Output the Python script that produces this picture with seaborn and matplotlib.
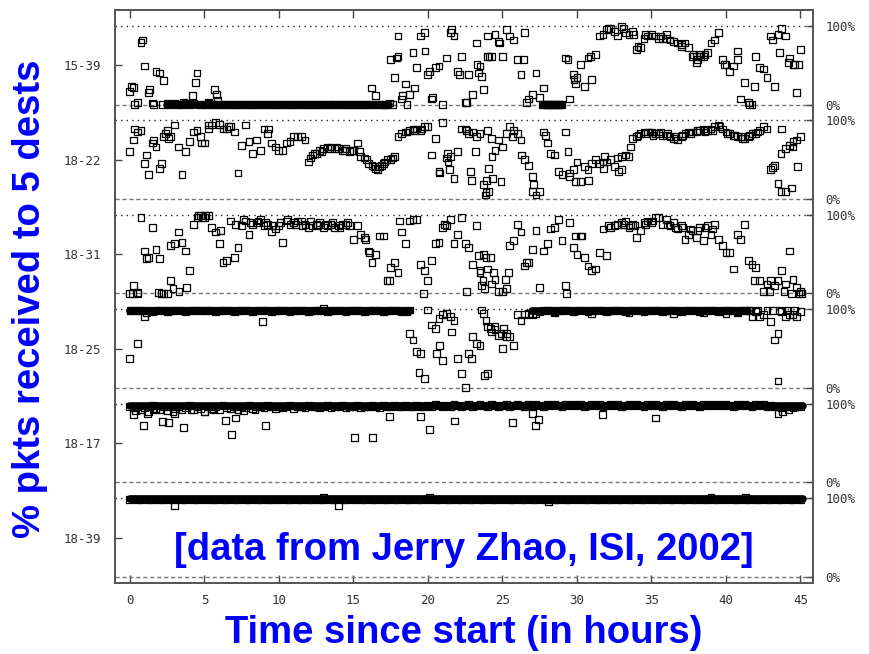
import matplotlib
matplotlib.use("Agg")
import matplotlib.pyplot as plt
import pandas as pd
import seaborn as sns

# sample times (hours since start)
hours = [
    0, 0.25, 0.5, 0.75, 1, 1.25, 1.5, 1.75, 2, 2.25, 2.5, 2.75, 3, 3.25, 3.5, 3.75, 4, 4.25, 4.5, 4.75,
    5, 5.25, 5.5, 5.75, 6, 6.25, 6.5, 6.75, 7, 7.25, 7.5, 7.75, 8, 8.25, 8.5, 8.75, 9, 9.25, 9.5, 9.75,
    10, 10.25, 10.5, 10.75, 11, 11.25, 11.5, 11.75, 12, 12.25, 12.5, 12.75, 13, 13.25, 13.5, 13.75, 14, 14.25, 14.5, 14.75,
    15, 15.25, 15.5, 15.75, 16, 16.25, 16.5, 16.75, 17, 17.25, 17.5, 17.75, 18, 18.25, 18.5, 18.75, 19, 19.25, 19.5, 19.75,
    20, 20.25, 20.5, 20.75, 21, 21.25, 21.5, 21.75, 22, 22.25, 22.5, 22.75, 23, 23.25, 23.5, 23.75, 24, 24.25, 24.5, 24.75,
    25, 25.25, 25.5, 25.75, 26, 26.25, 26.5, 26.75, 27, 27.25, 27.5, 27.75, 28, 28.25, 28.5, 28.75, 29, 29.25, 29.5, 29.75,
    30, 30.25, 30.5, 30.75, 31, 31.25, 31.5, 31.75, 32, 32.25, 32.5, 32.75, 33, 33.25, 33.5, 33.75, 34, 34.25, 34.5, 34.75,
    35, 35.25, 35.5, 35.75, 36, 36.25, 36.5, 36.75, 37, 37.25, 37.5, 37.75, 38, 38.25, 38.5, 38.75, 39, 39.25, 39.5, 39.75,
    40, 40.25, 40.5, 40.75, 41, 41.25, 41.5, 41.75, 42, 42.25, 42.5, 42.75, 43, 43.25, 43.5, 43.75, 44, 44.25, 44.5, 44.75,
    45,
]

hosts = ["15-39", "18-22", "18-31", "18-25", "18-17", "18-39"]

# % packets received, one value per sample time
pct_15_39 = [
    17, 22, 3, 79, 49, 15, 2, 42, 40, 30, 2, 0, 1, 0, 0, 2, 0, 1, 40, 0,
    0, 3, 0, 0, 0, 0, 0, 0, 0, 0, 0, 0, 0, 0, 0, 0, 0, 0, 0, 0,
    0, 0, 0, 0, 0, 0, 0, 0, 0, 0, 0, 0, 0, 0, 0, 0, 0, 0, 0, 0,
    0, 0, 0, 0, 0, 0, 0, 0, 0, 0, 57, 34, 87, 7, 26, 13, 66, 47, 87, 91,
    38, 7, 47, 49, 0, 59, 91, 87, 42, 61, 3, 38, 13, 78, 49, 19, 87, 61, 89, 80,
    61, 95, 87, 82, 57, 38, 91, 7, 13, 40, 9, 21, 0, 0, 0, 0, 0, 59, 7, 38,
    34, 51, 23, 59, 32, 63, 87, 89, 95, 97, 93, 87, 99, 91, 89, 93, 70, 72, 84, 87,
    89, 87, 84, 84, 89, 82, 80, 78, 74, 78, 72, 61, 53, 63, 61, 66, 78, 82, 91, 57,
    51, 42, 49, 68, 7, 28, 3, 0, 61, 47, 45, 34, 87, 23, 89, 97, 87, 59, 51, 15,
    70,
]
pct_18_22 = [
    60, 75, 85, 87, 45, 31, 71, 66, 39, 79, 87, 79, 94, 66, 31, 60, 73, 85, 87, 79,
    71, 89, 94, 97, 95, 89, 89, 92, 85, 33, 68, 94, 73, 58, 75, 62, 89, 83, 71, 66,
    62, 62, 71, 73, 79, 79, 79, 75, 47, 56, 58, 62, 64, 66, 66, 64, 64, 62, 64, 60,
    62, 71, 54, 52, 45, 43, 39, 41, 45, 50, 50, 54, 79, 83, 85, 87, 89, 89, 87, 92,
    92, 56, 77, 35, 97, 52, 54, 26, 60, 89, 89, 83, 85, 79, 83, 18, 87, 77, 62, 75,
    66, 83, 92, 87, 83, 75, 50, 43, 29, 5, 10, 85, 71, 58, 56, 35, 31, 85, 29, 37,
    47, 22, 41, 37, 45, 50, 45, 47, 47, 50, 41, 52, 54, 56, 54, 77, 79, 83, 85, 85,
    85, 83, 83, 81, 81, 79, 77, 75, 79, 83, 85, 85, 85, 87, 89, 87, 89, 92, 94, 89,
    85, 83, 81, 79, 79, 77, 79, 83, 83, 87, 92, 89, 37, 43, 20, 89, 64, 68, 73, 75,
    79,
]
pct_18_31 = [
    0, 10, 1, 97, 54, 46, 84, 56, 44, 0, 0, 61, 64, 78, 65, 54, 29, 88, 97, 99,
    97, 99, 84, 78, 63, 39, 42, 92, 46, 58, 86, 92, 75, 88, 90, 94, 86, 88, 78, 82,
    86, 65, 92, 88, 90, 92, 92, 88, 84, 86, 88, 90, 84, 86, 88, 84, 86, 88, 88, 86,
    69, 86, 75, 71, 54, 39, 50, 73, 73, 16, 33, 39, 27, 78, 63, 92, 94, 94, 37, 29,
    16, 42, 63, 65, 84, 86, 94, 63, 75, 97, 63, 58, 37, 86, 27, 50, 31, 12, 18, 3,
    3, 6, 61, 67, 88, 78, 35, 39, 56, 80, 8, 54, 63, 82, 84, 94, 67, 10, 90, 58,
    50, 73, 46, 35, 29, 31, 52, 82, 48, 84, 86, 88, 90, 92, 84, 88, 71, 80, 90, 92,
    90, 97, 97, 88, 94, 86, 90, 82, 86, 69, 75, 80, 71, 84, 67, 86, 75, 88, 69, 61,
    52, 52, 31, 75, 69, 88, 42, 37, 33, 16, 3, 12, 16, 10, 16, 29, 12, 54, 18, 8,
    3,
]
pct_18_25 = [
    37, 98, 56, 98, 91, 98, 97, 98, 99, 98, 97, 98, 98, 99, 98, 97, 98, 98, 99, 98,
    98, 99, 98, 97, 98, 98, 99, 98, 97, 98, 98, 99, 98, 97, 98, 98, 99, 98, 97, 98,
    98, 99, 98, 97, 98, 98, 99, 98, 97, 98, 98, 99, 98, 97, 98, 98, 99, 98, 97, 98,
    98, 99, 98, 97, 98, 98, 99, 98, 97, 98, 98, 99, 98, 97, 98, 69, 61, 46, 44, 12,
    99, 80, 76, 88, 93, 95, 91, 86, 37, 18, 1, 44, 65, 56, 54, 95, 78, 71, 78, 67,
    50, 69, 65, 54, 93, 86, 93, 95, 93, 95, 97, 98, 99, 98, 97, 98, 98, 99, 98, 97,
    98, 99, 98, 97, 98, 98, 99, 98, 97, 98, 98, 99, 98, 97, 98, 98, 99, 98, 97, 98,
    98, 99, 98, 97, 98, 98, 99, 98, 97, 98, 98, 99, 98, 97, 98, 98, 99, 98, 97, 98,
    98, 99, 98, 97, 98, 98, 98, 91, 97, 91, 93, 98, 84, 61, 69, 97, 91, 93, 93, 91,
    97,
]
pct_18_17 = [
    96, 86, 97, 93, 95, 90, 98, 94, 93, 97, 91, 96, 94, 97, 92, 95, 98, 93, 96, 94,
    90, 97, 94, 96, 93, 98, 95, 94, 97, 93, 96, 95, 98, 94, 96, 97, 95, 98, 96, 94,
    97, 95, 96, 98, 94, 97, 96, 95, 98, 96, 97, 95, 96, 98, 95, 97, 96, 98, 95, 97,
    96, 98, 95, 97, 96, 98, 97, 95, 98, 96, 97, 98, 96, 97, 98, 96, 97, 98, 97, 96,
    98, 97, 99, 98, 96, 98, 97, 99, 98, 97, 98, 99, 97, 98, 99, 98, 97, 99, 98, 97,
    98, 99, 97, 98, 99, 98, 97, 99, 98, 99, 98, 97, 99, 98, 99, 98, 97, 99, 98, 99,
    98, 99, 97, 98, 99, 98, 99, 97, 98, 99, 98, 99, 97, 98, 99, 98, 99, 98, 97, 99,
    98, 99, 98, 97, 99, 98, 99, 98, 97, 99, 98, 99, 98, 97, 99, 98, 99, 98, 99, 98,
    99, 98, 97, 99, 98, 99, 98, 97, 99, 98, 99, 97, 98, 96, 97, 95, 96, 97, 95, 97,
    97,
]
pct_18_39 = [
    98, 99, 98, 98, 99, 98, 98, 99, 98, 98, 99, 98, 98, 99, 98, 98, 99, 98, 98, 99,
    98, 99, 98, 98, 99, 98, 98, 99, 98, 98, 99, 98, 98, 99, 98, 98, 99, 98, 98, 99,
    98, 99, 98, 98, 99, 98, 98, 99, 98, 98, 99, 98, 98, 99, 98, 98, 99, 98, 98, 99,
    98, 99, 98, 98, 99, 98, 98, 99, 98, 98, 99, 98, 98, 99, 98, 98, 99, 98, 98, 99,
    98, 99, 98, 98, 99, 98, 98, 99, 98, 98, 99, 98, 98, 99, 98, 98, 99, 98, 98, 99,
    98, 99, 98, 98, 99, 98, 98, 99, 98, 98, 99, 98, 98, 99, 98, 98, 99, 98, 98, 99,
    98, 99, 98, 98, 99, 98, 98, 99, 98, 98, 99, 98, 98, 99, 98, 98, 99, 98, 98, 99,
    98, 99, 98, 98, 99, 98, 98, 99, 98, 98, 99, 98, 98, 99, 98, 98, 99, 98, 98, 99,
    98, 99, 98, 98, 99, 98, 98, 99, 98, 98, 99, 98, 98, 99, 98, 98, 99, 98, 98, 99,
    98,
]

# additional samples (several readings close together in time)
extra_t_15_39 = [0.1, 0.3, 0.85, 1.3, 1.6, 2.2, 3.6, 4.2, 4.4, 5.3, 5.7, 5.8, 5.9, 16.2, 16.5, 17.1, 17.4,
                 17.6, 17.9, 18.0, 18.3, 18.6, 19.1, 19.8, 20.1, 20.3, 21.6, 22.1, 22.6, 23.3, 23.4, 23.6,
                 24.0, 24.1, 24.8, 26.4, 26.6, 27.7, 27.9, 28.1, 28.4, 28.6, 28.9, 29.4, 29.8, 29.9, 30.9,
                 32.1, 33.1, 33.8, 34.1, 34.6, 35.6, 36.0, 37.0, 37.8, 38.0, 38.1, 38.3, 38.6, 39.9, 40.8,
                 41.6, 41.9, 43.1, 43.6, 44.2, 44.6, 44.9]
extra_p_15_39 = [23, 0, 82, 19, 0, 0, 3, 11, 28, 2, 19, 13, 5, 21, 11, 0, 2,
                 0, 59, 61, 11, 0, 21, 68, 42, 9, 95, 38, 3, 51, 40, 36,
                 61, 61, 78, 57, 3, 0, 0, 0, 0, 0, 0, 57, 32, 26, 61,
                 97, 97, 89, 74, 89, 87, 84, 76, 63, 61, 57, 61, 63, 51, 57,
                 0, 23, 82, 66, 53, 51, 51]
extra_t_18_22 = [0.3, 1.1, 1.6, 2.1, 2.4, 2.6, 4.8, 5.3, 6.6, 9.3, 12.1, 12.4, 12.9, 13.4, 13.9, 14.4, 14.9,
                 15.4, 15.9, 16.4, 16.6, 16.9, 17.1, 17.6, 18.6, 19.1, 19.6, 20.8, 21.3, 21.35, 21.45, 22.6,
                 22.85, 22.9, 23.2, 23.85, 23.9, 23.95, 24.05, 24.1, 24.3, 24.35, 24.9, 25.7, 26.3, 27.0,
                 27.1, 27.9, 29.4, 29.5, 29.9, 30.8, 31.8, 31.85, 32.8, 33.0, 33.6, 34.1, 34.6, 34.9, 35.1,
                 35.6, 36.1, 36.6, 37.1, 37.6, 38.1, 38.6, 39.1, 39.6, 40.1, 40.6, 41.1, 41.6, 42.1, 43.1,
                 43.7, 44.0, 44.4, 43.7, 44.5, 44.8]
extra_p_18_22 = [89, 56, 75, 45, 83, 77, 71, 94, 92, 89, 52, 58, 60, 64, 66, 62, 62,
                 60, 50, 41, 37, 43, 47, 52, 85, 87, 89, 33, 58, 47, 37, 87,
                 35, 24, 60, 5, 8, 24, 39, 10, 54, 26, 22, 79, 56, 10,
                 18, 81, 60, 33, 22, 24, 39, 54, 35, 37, 66, 81, 83, 85, 81,
                 85, 83, 79, 81, 83, 87, 85, 87, 92, 83, 81, 77, 81, 85, 40,
                 10, 10, 14, 58, 66, 41]
extra_t_18_31 = [0.2, 0.5, 1.1, 1.9, 2.1, 2.7, 2.9, 3.3, 3.8, 4.6, 4.9, 5.1, 6.1, 7.1, 7.6, 8.1, 8.6, 9.1,
                 9.6, 10.1, 10.6, 11.1, 11.6, 12.1, 12.6, 13.1, 13.6, 14.1, 14.6, 15.8, 16.1, 17.4, 18.1,
                 19.7, 21.1, 22.6, 23.4, 23.5, 23.6, 23.7, 23.8, 23.9, 24.2, 24.4, 25.2, 25.4, 26.6, 29.3,
                 29.9, 30.3, 32.1, 33.1, 33.6, 33.9, 34.6, 35.1, 36.1, 36.6, 37.1, 37.6, 38.1, 38.6, 39.1,
                 41.9, 42.9, 43.9, 44.4, 44.9, 45.1]
extra_p_18_31 = [0, 0, 44, 1, 0, 16, 6, 3, 8, 99, 97, 99, 80, 88, 94, 90, 92, 90,
                 86, 90, 94, 88, 86, 92, 86, 88, 90, 84, 90, 69, 52, 16, 92,
                 0, 88, 3, 48, 29, 10, 16, 6, 46, 46, 27, 18, 27, 39, 0,
                 73, 73, 86, 88, 86, 86, 88, 92, 88, 84, 84, 82, 80, 84, 82,
                 16, 3, 3, 0, 0, 0]
extra_t_18_25 = [0.05, 0.6, 1.1, 8.9, 13.0, 18.6, 18.8, 19.4, 20.6, 20.8, 21.0, 21.6, 22.9, 23.6, 23.8, 23.9,
                 24.0, 24.2, 24.5, 24.9, 25.1, 25.3, 28.5, 31.0, 33.5, 36.5, 38.5, 40.0, 40.8, 41.6, 42.1,
                 43.1, 43.5, 43.6, 44.1, 44.6]
extra_p_18_25 = [98, 98, 96, 84, 101, 97, 99, 20, 44, 54, 35, 71, 37, 99, 16, 86,
                 18, 76, 74, 69, 76, 65, 96, 95, 96, 95, 96, 95, 96, 98, 98,
                 98, 9, 98, 98, 98]
extra_t_18_17 = [0.4, 0.9, 1.2, 1.6, 2.2, 2.6, 2.9, 3.0, 3.6, 4.1, 5.0, 5.6, 6.4, 6.8, 7.1, 7.6, 8.4, 9.1,
                 15.1, 16.3, 17.4, 19.5, 20.1, 21.8, 25.7, 27.0, 27.2, 27.4, 31.7, 35.3, 43.5, 43.8, 44.2]
extra_p_18_17 = [91, 72, 88, 92, 77, 76, 90, 88, 70, 93, 90, 92, 79, 61, 82, 91, 93, 72,
                 57, 57, 84, 84, 67, 78, 76, 88, 72, 80, 86, 82, 88, 90, 92]
extra_t_18_39 = [3.0, 13.0, 14.0, 20.1, 28.1, 39.0, 41.3]
extra_p_18_39 = [91, 101, 91, 101, 96, 101, 101]

# stretches where samples are so dense they merge into a solid bar
run_host = ["15-39", "15-39", "18-25", "18-25", "18-17", "18-39"]
run_start = [2.5, 27.7, 0.0, 27.0, 0.0, 0.0]
run_end = [17.4, 29.0, 18.8, 41.5, 45.2, 45.2]
run_pct = [0, 0, 97.5, 98, 97, 98.5]

series = {
    "15-39": (pct_15_39, extra_t_15_39, extra_p_15_39),
    "18-22": (pct_18_22, extra_t_18_22, extra_p_18_22),
    "18-31": (pct_18_31, extra_t_18_31, extra_p_18_31),
    "18-25": (pct_18_25, extra_t_18_25, extra_p_18_25),
    "18-17": (pct_18_17, extra_t_18_17, extra_p_18_17),
    "18-39": (pct_18_39, extra_t_18_39, extra_p_18_39),
}

STRIP = 120  # vertical room for one host (100 % + gap)
base_of = {h: STRIP * (len(hosts) - 1 - k) for k, h in enumerate(hosts)}

rows = []
for host in hosts:
    pct, et, ep = series[host]
    assert len(pct) == len(hours) and len(et) == len(ep), host
    for t, p in zip(hours, pct):
        rows.append((host, t, p + base_of[host]))
    for t, p in zip(et, ep):
        rows.append((host, t, p + base_of[host]))
df = pd.DataFrame(rows, columns=["host", "hour", "y"])

sns.set_style("white")
plt.rcParams["font.family"] = ["DejaVu Sans"]

fig = plt.figure(figsize=(8.69, 6.54), dpi=100)
ax = fig.add_axes([0.1323, 0.1086, 0.8032, 0.8761])

for host in hosts:
    base = base_of[host]
    ax.axhline(base + 100, color="#222222", lw=1.0, ls=(0, (1, 3)), zorder=1)
    ax.axhline(base, color="#777777", lw=1.0, ls=(0, (3, 2)), zorder=1)

runs = ax.hlines([p + base_of[h] for h, p in zip(run_host, run_pct)], run_start, run_end,
                 colors="black", lw=5.5, zorder=2)
runs.set_capstyle("round")

sns.scatterplot(data=df, x="hour", y="y", marker="s", s=24, facecolor="none",
                edgecolor="black", linewidth=0.9, legend=False, ax=ax, zorder=3)

ax.set_xlim(-1.0, 45.84)
ax.set_ylim(-7.6, 720)
ax.set_xlabel("")
ax.set_ylabel("")

tick_font = dict(family="DejaVu Sans Mono", size=9, color="#333333")
ax.set_xticks(list(range(0, 46, 5)))
ax.set_xticklabels([str(v) for v in range(0, 46, 5)], **tick_font)
ax.set_yticks([base_of[h] + 50 for h in hosts])
ax.set_yticklabels(hosts, **tick_font)
ax.tick_params(axis="x", direction="in", length=6, width=1, top=True, bottom=True, pad=8, color="#444444")
ax.tick_params(axis="y", direction="in", length=5, width=1, left=True, right=False, pad=10, color="#444444")

rax = ax.twinx()
rax.set_ylim(ax.get_ylim())
rpos, rlab = [], []
for host in hosts:
    rpos += [base_of[host] + 100, base_of[host]]
    rlab += ["100%", "0%"]
rax.set_yticks(rpos)
rax.set_yticklabels(rlab, **tick_font)
rax.tick_params(axis="y", direction="in", length=5, width=1, pad=9, color="#444444")

for a in (ax, rax):
    for sp in a.spines.values():
        sp.set_color("#555555")
        sp.set_linewidth(1.3)

blue = "#0000ff"
big = dict(family="Liberation Sans", fontsize=27.5, fontweight="bold", color=blue)
fig.text(0.0345, 0.543, "% pkts received to 5 dests", rotation=90, ha="center", va="center", **big)
fig.text(0.534, 0.032, "Time since start (in hours)", ha="center", va="center", **big)
ax.text(0.5, 0.058, "[data from Jerry Zhao, ISI, 2002]", transform=ax.transAxes,
        ha="center", va="center", zorder=5, **big)

fig.savefig("out.png", dpi=100)
